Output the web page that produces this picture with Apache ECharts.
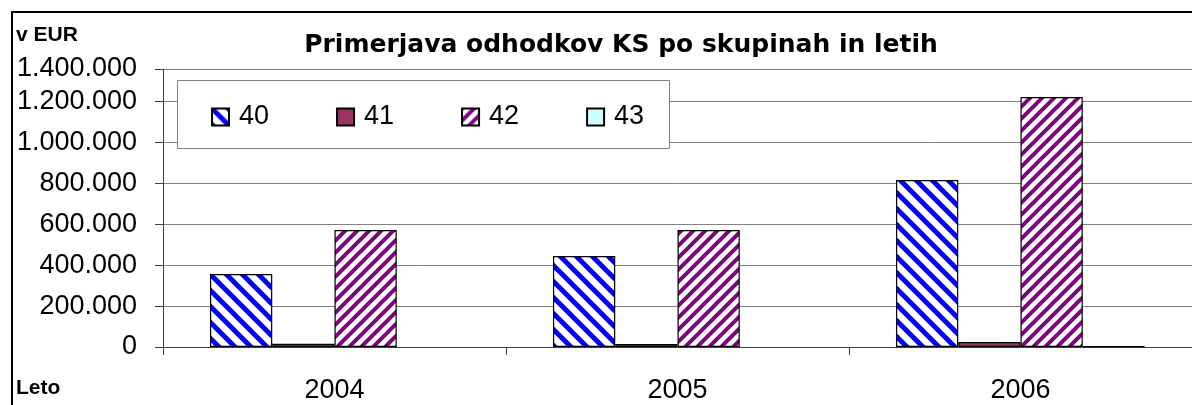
<!DOCTYPE html>
<html>
<head>
<meta charset="utf-8">
<script src="https://cdn.jsdelivr.net/npm/echarts@6/dist/echarts.min.js"></script>
<style>
html,body{margin:0;padding:0;background:#fff;}
#c{width:1192px;height:405px;}
</style>
</head>
<body>
<div id="c"></div>
<script>
const categories = ['2004', '2005', '2006'];
const seriesNames = ['40', '41', '42', '43'];
const values40 = [356000, 444000, 816000];
const values41 = [16000, 15000, 24000];
const values42 = [571000, 571000, 1221000];
const values43 = [null, null, 4000];
const yTickLabels = ['0', '200.000', '400.000', '600.000', '800.000', '1.000.000', '1.200.000', '1.400.000'];
const titleText = 'Primerjava odhodkov KS po skupinah in letih';
const yUnitText = 'v EUR';
const xNameText = 'Leto';

function stripePattern(color, period, width, dir) {
  const c = document.createElement('canvas');
  c.width = period; c.height = period;
  const g = c.getContext('2d');
  g.fillStyle = '#fff';
  g.fillRect(0, 0, period, period);
  g.strokeStyle = color;
  g.lineWidth = width;
  for (let k = -1; k <= 1; k++) {
    g.beginPath();
    if (dir === 'back') {
      g.moveTo(k * period - period, -period);
      g.lineTo(k * period + 2 * period, 2 * period);
    } else {
      g.moveTo(k * period - period, 2 * period);
      g.lineTo(k * period + 2 * period, -period);
    }
    g.stroke();
  }
  return { image: c, repeat: 'repeat' };
}

const fills = [
  stripePattern('#0000ff', 16, 5, 'back'),
  '#993366',
  stripePattern('#800080', 12, 4, 'fwd'),
  '#ccffff'
];
const seriesValues = [values40, values41, values42, values43];

const chart = echarts.init(document.getElementById('c'), null, { renderer: 'canvas' });
const FONT = 'Liberation Sans, Arial, sans-serif';

chart.setOption({
  animation: false,
  backgroundColor: '#fff',
  textStyle: { fontFamily: FONT },
  grid: { left: 163, top: 69, width: 1033, height: 278, containLabel: false },
  legend: {
    data: seriesNames,
    left: 211, top: 103.5,
    padding: 0,
    itemWidth: 17, itemHeight: 17, itemGap: 67,
    icon: 'rect',
    textStyle: { fontSize: 27, color: '#000', fontFamily: FONT, padding: [0, 0, 0, 5] },
    z: 10
  },
  xAxis: {
    type: 'category',
    data: categories,
    axisLine: { lineStyle: { color: '#404040', width: 1 } },
    axisTick: { show: true, length: 8, lineStyle: { color: '#404040' } },
    axisLabel: { fontSize: 27, color: '#000', margin: 30, fontFamily: FONT },
    splitLine: { show: false }
  },
  yAxis: {
    type: 'value',
    min: 0, max: 1358000, interval: 200000,
    axisLine: { show: true, lineStyle: { color: '#404040', width: 1 } },
    axisTick: { show: true, length: 8, lineStyle: { color: '#404040' } },
    axisLabel: {
      fontSize: 27, color: '#000', margin: 26, fontFamily: FONT,
      showMinLabel: true, showMaxLabel: true,
      formatter: function (v, i) { return yTickLabels[i]; }
    },
    splitLine: { show: true, lineStyle: { color: '#808080', width: 1 } }
  },
  series: seriesNames.map(function (n, i) {
    return {
      name: n, type: 'bar',
      data: seriesValues[i],
      barGap: '0%', barCategoryGap: '27.4%',
      itemStyle: { color: fills[i], borderColor: '#000', borderWidth: 1.2 },
      emphasis: { disabled: true }
    };
  }),
  graphic: [
    { type: 'rect', z: 0, silent: true, shape: { x: 12, y: 12, width: 1200, height: 420 },
      style: { fill: null, stroke: '#000', lineWidth: 2 } },
    { type: 'rect', z: 5, silent: true, shape: { x: 177.5, y: 80.5, width: 492, height: 68 },
      style: { fill: '#fff', stroke: '#808080', lineWidth: 1 } },
    { type: 'text', z: 5, silent: true, x: 621, y: 45,
      style: { text: titleText, font: 'bold 25px DejaVu Sans, sans-serif', fill: '#000', textAlign: 'center', textVerticalAlign: 'middle' } },
    { type: 'text', z: 5, silent: true, x: 16, y: 35,
      style: { text: yUnitText, font: 'bold 21px ' + FONT, fill: '#000', textAlign: 'left', textVerticalAlign: 'middle' } },
    { type: 'text', z: 5, silent: true, x: 16, y: 388,
      style: { text: xNameText, font: 'bold 21px ' + FONT, fill: '#000', textAlign: 'left', textVerticalAlign: 'middle' } }
  ]
});
</script>
</body>
</html>
